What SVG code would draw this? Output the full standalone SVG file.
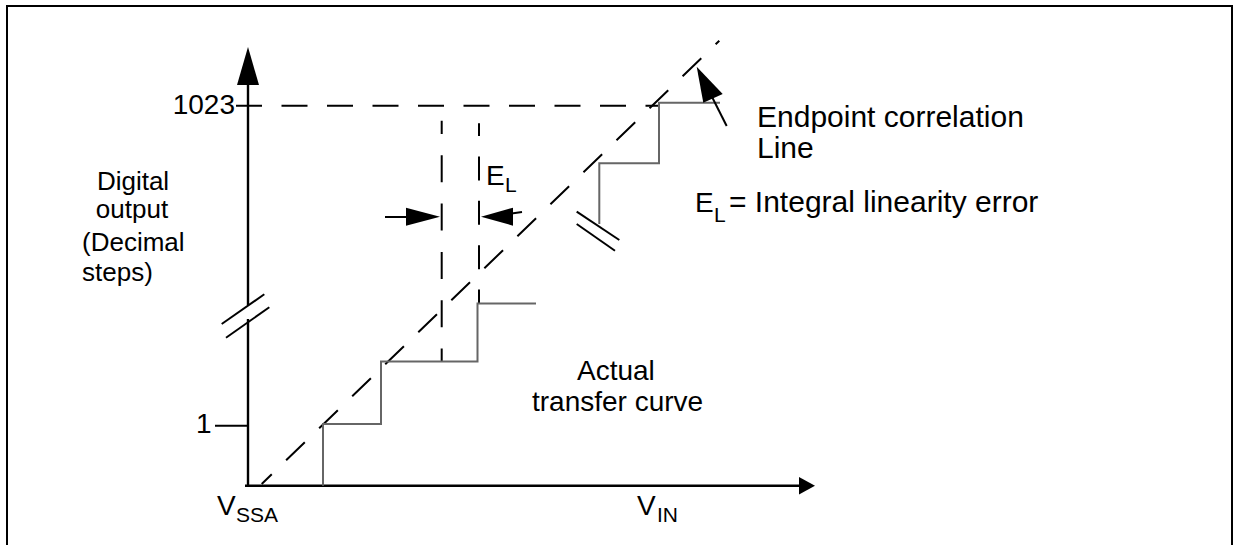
<svg xmlns="http://www.w3.org/2000/svg" width="1239" height="545" viewBox="0 0 1239 545">
<style>
  .t { font-family: "Liberation Sans", Arial, sans-serif; font-size: 28px; fill: #000; }
  .l { font-size: 26px; }
  .r { font-size: 30px; }
  .s { font-size: 21px; }
  .ax { stroke: #000; stroke-width: 2.4; fill: none; }
  .dash { stroke: #000; stroke-width: 2; fill: none; }
  .step { stroke: #666; stroke-width: 2; fill: none; }
  .head { fill: #000; stroke: none; }
  .thin { stroke: #000; stroke-width: 2; fill: none; }
</style>
<rect x="7" y="6" width="1225" height="600" fill="#fff" stroke="#000" stroke-width="2"/>

<g id="axes">
  <line class="ax" x1="248" y1="80" x2="248" y2="305"/>
  <line class="ax" x1="248" y1="319" x2="248" y2="487"/>
  <polygon class="head" points="248,47 237,85 259,85"/>
  <line class="ax" x1="245" y1="485.7" x2="802" y2="485.7"/>
  <polygon class="head" points="815,485.7 799,477 799,494.4"/>
  <line class="thin" x1="221.7" y1="324" x2="264.3" y2="294.3"/>
  <line class="thin" x1="226" y1="337.7" x2="269.3" y2="307.3"/>
  <line class="thin" x1="215" y1="425.7" x2="248" y2="425.7"/>
</g>

<g id="labels">
  <text class="t" x="235" y="114" text-anchor="end">1023</text>
  <text class="t" x="196" y="433">1</text>
  <text class="t l" x="133" y="190" text-anchor="middle">Digital</text>
  <text class="t l" x="132" y="218" text-anchor="middle">output</text>
  <text class="t l" x="82" y="251">(Decimal</text>
  <text class="t l" x="82" y="281">steps)</text>
  <text class="t" x="217" y="515">V<tspan class="s" x="236" y="522">SSA</tspan></text>
  <text class="t" x="637" y="515">V<tspan class="s" x="657" y="522">IN</tspan></text>
  <text class="t" x="577" y="380">Actual</text>
  <text class="t" x="532" y="411">transfer curve</text>
  <text class="t r" x="757" y="127">Endpoint correlation</text>
  <text class="t r" x="757" y="158">Line</text>
  <text class="t" x="695" y="212">E</text>
  <text class="t s" x="714" y="222">L</text>
  <text class="t r" x="729" y="212">= Integral linearity error</text>
  <text class="t" x="486" y="185">E</text>
  <text class="t s" x="505" y="192">L</text>
</g>

<g id="connectors">
  <line class="dash" x1="236" y1="105.7" x2="659" y2="105.7" stroke-dasharray="26 19.5" stroke-dashoffset="0"/>
  <line class="dash" x1="441.7" y1="120.7" x2="441.7" y2="361" stroke-dasharray="27 21.3" stroke-dashoffset="13.7"/>
  <line class="dash" x1="479" y1="123.3" x2="479" y2="304" stroke-dasharray="24 20.4" stroke-dashoffset="11.3"/>
  <line class="dash" x1="261.7" y1="484" x2="719.3" y2="40.7" stroke-dasharray="26 20" stroke-dashoffset="12"/>
  <polyline class="step" points="323,485.7 323,424 381,424 381,361.5 477.5,361.5 477.5,303.5 536,303.5"/>
  <polyline class="step" points="599.3,224 599.3,163.3 659,163.3 659,102.7 720,102.7"/>
  <line class="thin" x1="576.7" y1="211.7" x2="619.3" y2="240"/>
  <line class="thin" x1="576.7" y1="224" x2="615" y2="250.7"/>
  <line class="thin" x1="385" y1="217" x2="410" y2="217"/>
  <polygon class="head" points="440,216.7 406,207.7 406,225.7"/>
  <line class="thin" x1="522" y1="212" x2="508" y2="214"/>
  <polygon class="head" points="481,216.7 513,207.7 513,225.7"/>
  <line class="thin" x1="726.7" y1="126" x2="708" y2="89"/>
  <polygon class="head" points="696.7,66.7 703.3,102.7 722.7,94"/>
</g>
</svg>
